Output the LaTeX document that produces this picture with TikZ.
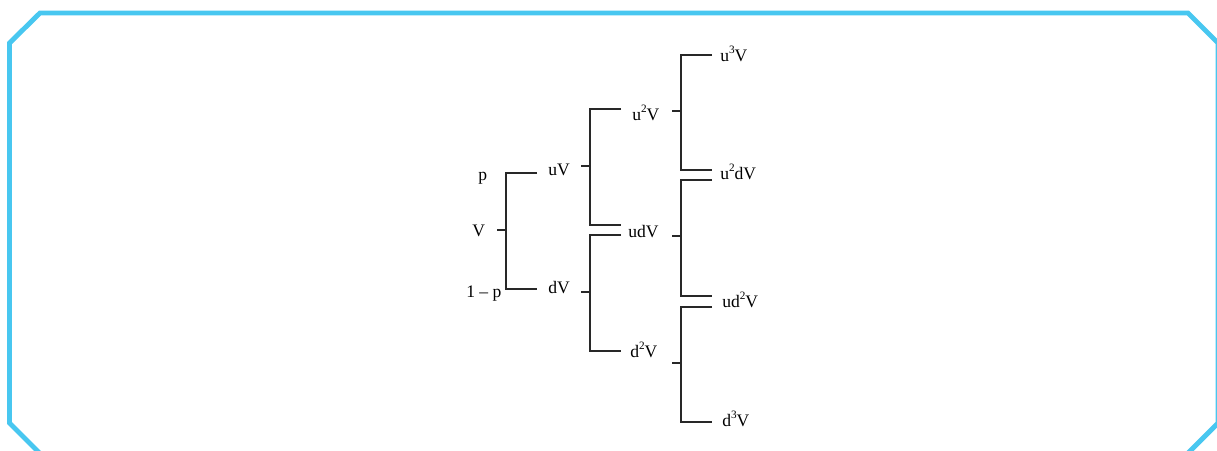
\documentclass[tikz,border=0pt]{standalone}
\usepackage{fontspec}
\setmainfont{Liberation Serif}
\definecolor{frameblue}{RGB}{72,199,240}
\definecolor{forkgray}{RGB}{40,40,40}
\newcommand{\pw}[1]{\raisebox{0.9ex}{\fontsize{8}{9}\selectfont#1}}
\begin{document}
\begin{tikzpicture}[
    x=0.025cm, y=-0.025cm,
    every node/.style={inner sep=0pt, anchor=base west, font=\fontsize{12.5}{14}\selectfont},
    fork/.style={draw=forkgray, line width=0.9pt},
    frame/.style={draw=frameblue, line width=3.5pt, line join=miter}
]
    \clip (0,0) rectangle (1217,450);
    % chamfered frame, partly outside the page
    \draw[frame] (40,13) -- (1188,13) -- (1218,43) -- (1218,423) -- (1185,456)
        -- (42.5,456) -- (9.5,423) -- (9.5,43) -- cycle;

    % labels
    \node (p)    at (478,180) {p};
    \node (V)    at (472,236) {V};
    \node (q)    at (466,297) {1 -- p};
    \node (uV)   at (548,175) {uV};
    \node (dV)   at (548,293) {dV};
    \node (uuV)  at (632,120) {u\pw{2}V};
    \node (udV)  at (628,237) {udV};
    \node (ddV)  at (630,357) {d\pw{2}V};
    \node (uuuV) at (720,61)  {u\pw{3}V};
    \node (uudV) at (720,179) {u\pw{2}dV};
    \node (uddV) at (722,307) {ud\pw{2}V};
    \node (dddV) at (722,426) {d\pw{3}V};

    % forks: name / tick start / tick y / upper end / lower end
    \foreach \n/\x/\y/\a/\b in {V/497/230/173/289, uV/581/166/109/225,
        dV/581/292/235/351, uuV/672/111/55/170, udV/672/236/180/296,
        ddV/672/363/307/422} {
        \coordinate (\n-in) at (\x,\y);
        \coordinate (\n-j)  at (\x+9,\y);
        \coordinate (\n-up) at (\x+40,\a);
        \coordinate (\n-dn) at (\x+40,\b);
        \draw[fork] (\n-in) -- (\n-j) (\n-up) -| (\n-j) |- (\n-dn);
    }
\end{tikzpicture}
\end{document}
